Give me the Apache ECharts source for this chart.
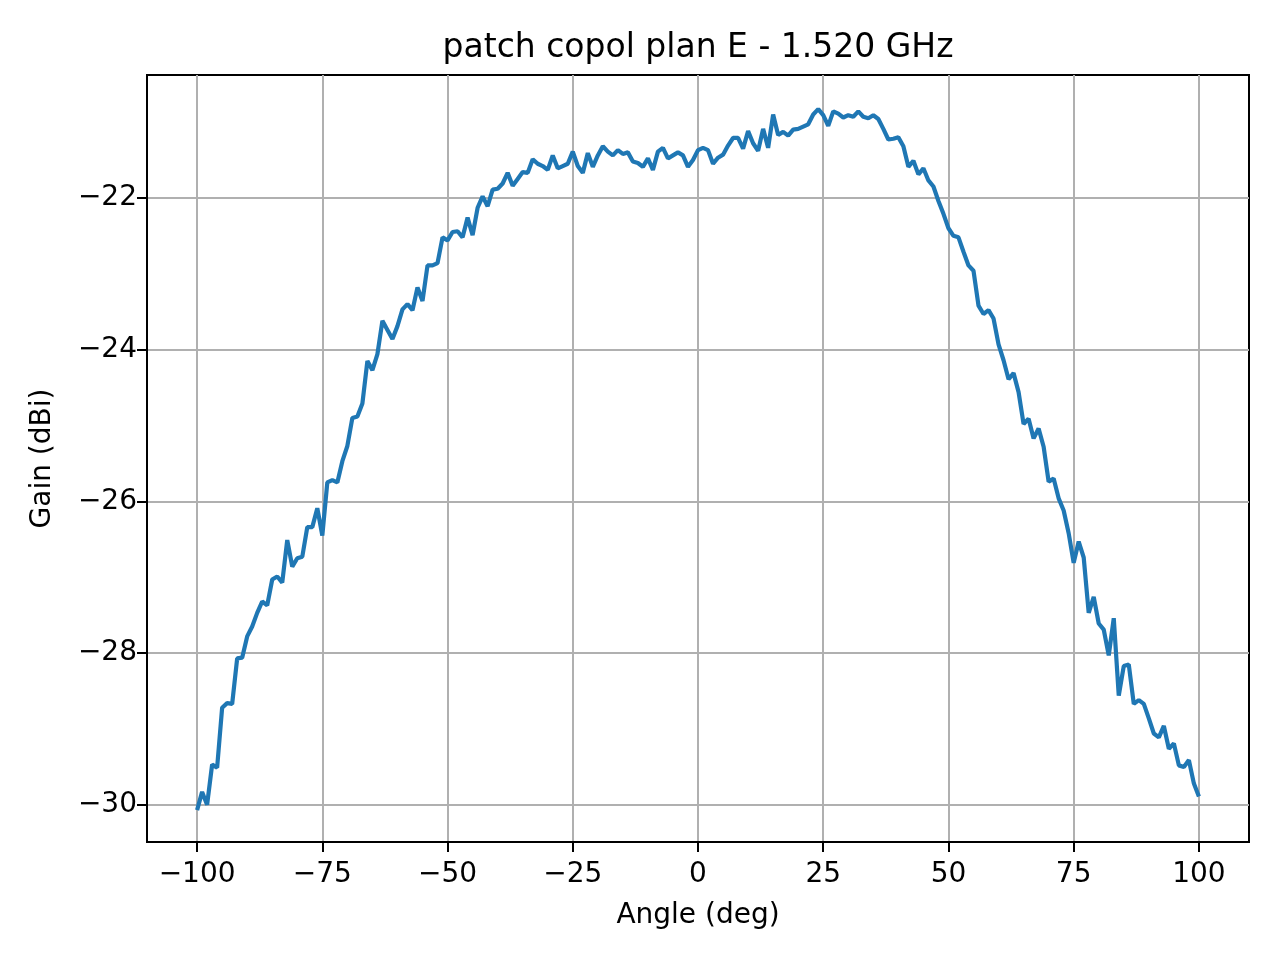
<!DOCTYPE html>
<html>
<head>
<meta charset="utf-8">
<title>patch copol plan E - 1.520 GHz</title>
<script src="https://cdn.jsdelivr.net/npm/echarts@6/dist/echarts.min.js"></script>
<style>
  html, body { margin: 0; padding: 0; background: #fff; }
  #chart { width: 1280px; height: 960px; }
</style>
</head>
<body>
<div id="chart"></div>
<script>
// measured angles: -100 .. 100 deg, 1 deg step
const angleStart = -100;
const angleStep = 1;

// gain (dBi), one value per angle
const gain = [
  -30.07, -29.83, -30.00, -29.47, -29.51, -28.72, -28.66, -28.67, -28.07, -28.06,
  -27.78, -27.65, -27.47, -27.32, -27.37, -27.03, -26.99, -27.07, -26.51, -26.86,
  -26.75, -26.73, -26.34, -26.34, -26.09, -26.45, -25.75, -25.72, -25.75, -25.47,
  -25.27, -24.90, -24.88, -24.71, -24.15, -24.27, -24.06, -23.62, -23.74, -23.86,
  -23.69, -23.47, -23.40, -23.48, -23.18, -23.36, -22.89, -22.89, -22.86, -22.52,
  -22.56, -22.45, -22.44, -22.52, -22.26, -22.49, -22.13, -21.98, -22.11, -21.89,
  -21.88, -21.81, -21.67, -21.84, -21.75, -21.66, -21.67, -21.49, -21.55, -21.58,
  -21.63, -21.44, -21.61, -21.58, -21.55, -21.39, -21.58, -21.67, -21.41, -21.59,
  -21.44, -21.32, -21.39, -21.44, -21.37, -21.42, -21.40, -21.52, -21.54, -21.59,
  -21.48, -21.63, -21.39, -21.34, -21.48, -21.44, -21.40, -21.44, -21.59, -21.50,
  -21.37,
  -21.34, -21.37, -21.55, -21.47, -21.43, -21.31, -21.21, -21.21, -21.35, -21.12,
  -21.28, -21.38, -21.09, -21.34, -20.90, -21.17, -21.13, -21.18, -21.10, -21.09,
  -21.06, -21.03, -20.90, -20.83, -20.91, -21.05, -20.86, -20.89, -20.94, -20.91,
  -20.93, -20.86, -20.93, -20.95, -20.91, -20.96, -21.09, -21.23, -21.22, -21.20,
  -21.32, -21.59, -21.51, -21.69, -21.61, -21.77, -21.85, -22.04, -22.21, -22.40,
  -22.50, -22.52, -22.71, -22.89, -22.96, -23.42, -23.53, -23.48, -23.59, -23.93,
  -24.14, -24.39, -24.31, -24.56, -24.98, -24.91, -25.17, -25.04, -25.28, -25.74,
  -25.70, -25.96, -26.12, -26.42, -26.81, -26.53, -26.74, -27.47, -27.26, -27.61,
  -27.69, -28.03, -27.54, -28.56, -28.17, -28.15, -28.67, -28.62, -28.67, -28.86,
  -29.06, -29.11, -28.96, -29.26, -29.19, -29.48, -29.50, -29.41, -29.72, -29.89
];

const xTicks = [-100, -75, -50, -25, 0, 25, 50, 75, 100];
const yTicks = [-30, -28, -26, -24, -22];

const points = gain.map((g, i) => [angleStart + i * angleStep, g]);

const fontFamily = 'DejaVu Sans';
const minus = (v) => (v < 0 ? '\u2212' + Math.abs(v) : String(v));

const chart = echarts.init(document.getElementById('chart'));
chart.setOption({
  animation: false,
  backgroundColor: '#fff',
  textStyle: { fontFamily: fontFamily },
  title: {
    text: 'patch copol plan E - 1.520 GHz',
    left: 698,
    textAlign: 'center',
    top: 32,
    padding: 0,
    textStyle: { fontSize: 33, fontWeight: 'normal', color: '#000', fontFamily: fontFamily }
  },
  grid: {
    left: 147,
    right: 31,
    top: 75,
    bottom: 118,
    show: true,
    borderColor: '#000',
    borderWidth: 2,
    backgroundColor: 'transparent'
  },
  xAxis: {
    type: 'value',
    min: -110,
    max: 110,
    name: 'Angle (deg)',
    nameLocation: 'middle',
    nameGap: 60,
    nameTextStyle: { fontSize: 28, color: '#000', fontFamily: fontFamily },
    axisLine: { onZero: false, lineStyle: { color: '#000', width: 2 } },
    axisTick: { show: true, inside: false, length: 10, lineStyle: { color: '#000', width: 2 }, customValues: xTicks },
    axisLabel: { fontSize: 28, color: '#000', margin: 19, formatter: minus, customValues: xTicks, fontFamily: fontFamily },
    splitLine: { show: true, lineStyle: { color: '#b0b0b0', width: 2 } }
  },
  yAxis: {
    type: 'value',
    min: -30.49,
    max: -20.38,
    name: 'Gain (dBi)',
    nameLocation: 'middle',
    nameGap: 90,
    nameTextStyle: { fontSize: 28, color: '#000', fontFamily: fontFamily },
    axisLine: { show: true, onZero: false, lineStyle: { color: '#000', width: 2 } },
    axisTick: { show: true, inside: false, length: 10, lineStyle: { color: '#000', width: 2 }, customValues: yTicks },
    axisLabel: { fontSize: 28, color: '#000', margin: 10, formatter: minus, customValues: yTicks, fontFamily: fontFamily },
    splitLine: { show: true, lineStyle: { color: '#b0b0b0', width: 2 } }
  },
  series: [
    {
      type: 'line',
      data: points,
      showSymbol: false,
      lineStyle: { color: '#1f77b4', width: 4.2 },
      itemStyle: { color: '#1f77b4' }
    }
  ]
});
</script>
</body>
</html>
